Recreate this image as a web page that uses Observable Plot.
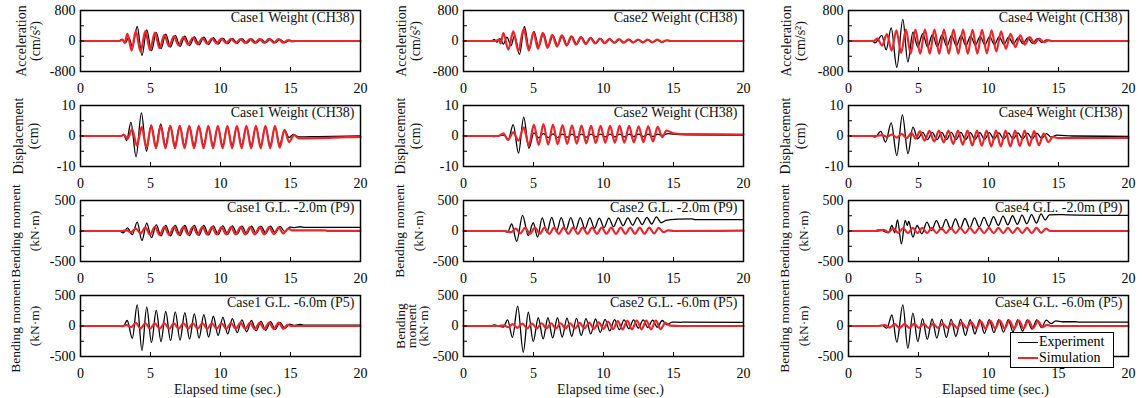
<!DOCTYPE html>
<html><head><meta charset="utf-8">
<script src="https://cdn.jsdelivr.net/npm/d3@7"></script>
<script src="https://cdn.jsdelivr.net/npm/@observablehq/plot@0.6"></script>
<style>
body{margin:0;background:#fff;}
#chart{position:relative;width:1142px;height:398px;overflow:hidden;font-family:"Liberation Serif","Times New Roman",serif;}
#chart svg{position:absolute;}
.legend{position:absolute;left:1010px;top:332px;width:102px;height:34px;border:1px solid #000;background:#fff;font-size:14px;color:#000;z-index:5;}
.legend .sw{position:absolute;left:7px;width:20px;}
.legend .lb{position:absolute;left:28px;line-height:14px;}
</style></head>
<body><div id="chart"></div>
<script>
// ---- tick values / labels ----
const xTicks = [0, 5, 10, 15, 20];
const accTicks = [-800, -400, 0, 400, 800];
const accLabeled = [-800, 0, 800];
const dispTicks = [-10, -5, 0, 5, 10];
const dispLabeled = [-10, 0, 10];
const bmTicks = [-500, -250, 0, 250, 500];
const bmLabeled = [-500, 0, 500];
const cases = ["Case1", "Case2", "Case4"];
const seriesNames = ["Experiment", "Simulation"];

// ---- Case1 ----
const acc1Exp = [[0,0],[2.7,0],[2.95,40],[3.2,-50],[3.45,90],[3.71,-150],[4.05,380],[4.39,-380],[4.73,290],[5.07,-250],[5.41,220],[5.75,-200],[6.09,180],[6.43,-160],[6.77,150],[7.11,-140],[7.45,130],[7.79,-120],[8.13,110],[8.47,-100],[8.81,100],[9.15,-90],[9.49,85],[9.83,-80],[10.17,75],[10.51,-70],[10.85,65],[11.19,-60],[11.53,60],[11.87,-55],[12.21,55],[12.55,-50],[12.89,50],[13.23,-45],[13.57,50],[13.91,-45],[14.25,45],[14.59,-40],[14.93,20],[15.2,-10],[15.5,0],[20,0]];
const acc1Sim = [[0,0],[2.8,0],[3.0,40],[3.15,-50],[3.35,190],[3.65,-250],[3.95,260],[4.29,-280],[4.63,260],[4.97,-240],[5.31,220],[5.65,-190],[5.99,160],[6.33,-140],[6.67,120],[7.01,-110],[7.35,100],[7.69,-90],[8.03,85],[8.37,-80],[8.71,75],[9.05,-70],[9.39,65],[9.73,-60],[10.07,60],[10.41,-55],[10.75,55],[11.09,-50],[11.43,50],[11.77,-50],[12.11,50],[12.45,-50],[12.79,50],[13.13,-50],[13.47,55],[13.81,-50],[14.15,50],[14.49,-45],[14.83,25],[15.1,-10],[15.4,0],[20,0]];
const disp1Exp = [[0,0],[2.9,0],[3.1,0.4],[3.3,-1.5],[3.6,4.5],[3.97,-6.8],[4.35,7.6],[4.71,-5.0],[5.05,3.6],[5.39,-3.2],[5.73,4.0],[6.07,-3.0],[6.41,3.5],[6.75,-3.0],[7.09,3.4],[7.43,-3.0],[7.77,3.2],[8.11,-3.0],[8.45,3.0],[8.79,-3.0],[9.13,3.0],[9.47,-3.0],[9.81,3.0],[10.15,-3.0],[10.49,3.0],[10.83,-3.0],[11.17,3.0],[11.51,-3.0],[11.85,3.0],[12.19,-3.0],[12.53,3.0],[12.87,-3.0],[13.21,3.0],[13.55,-3.0],[13.89,3.0],[14.23,-2.8],[14.57,2.0],[14.9,-0.5],[15.2,0.5],[15.6,-0.3],[17,-0.2],[20,0]];
const disp1Sim = [[0,0],[2.9,0],[3.1,0.5],[3.35,-1.0],[3.69,2.2],[4.03,-3.2],[4.37,3.0],[4.71,-3.8],[5.05,3.3],[5.39,-4.0],[5.73,3.3],[6.07,-4.0],[6.41,3.3],[6.75,-4.0],[7.09,3.3],[7.43,-4.0],[7.77,3.3],[8.11,-4.0],[8.45,3.3],[8.79,-4.0],[9.13,3.3],[9.47,-4.0],[9.81,3.3],[10.15,-4.0],[10.49,3.3],[10.83,-4.0],[11.17,3.3],[11.51,-4.0],[11.85,3.3],[12.19,-4.0],[12.53,3.3],[12.87,-4.0],[13.21,3.3],[13.55,-4.0],[13.89,3.3],[14.23,-3.8],[14.57,2.0],[14.9,-2.0],[15.25,0.3],[15.6,-0.8],[17,-0.7],[19,-0.4],[20,-0.3]];
const bm2m1Exp = [[0,0],[2.8,0],[3.05,-30],[3.35,50],[3.7,-60],[4.05,145],[4.39,-155],[4.73,130],[5.07,-110],[5.41,100],[5.75,-80],[6.09,90],[6.43,-80],[6.77,90],[7.11,-75],[7.45,90],[7.79,-75],[8.13,90],[8.47,-70],[8.81,90],[9.15,-65],[9.49,85],[9.83,-60],[10.17,85],[10.51,-55],[10.85,85],[11.19,-50],[11.53,80],[11.87,-45],[12.21,80],[12.55,-40],[12.89,80],[13.23,-35],[13.57,80],[13.91,-30],[14.25,75],[14.59,-10],[14.95,65],[15.3,55],[15.7,70],[16.0,60],[20,60]];
const bm2m1Sim = [[0,0],[3.0,0],[3.3,10],[3.6,-20],[3.95,40],[4.29,-40],[4.63,60],[4.97,-60],[5.31,70],[5.65,-65],[5.99,70],[6.33,-65],[6.67,70],[7.01,-60],[7.35,70],[7.69,-60],[8.03,70],[8.37,-60],[8.71,70],[9.05,-60],[9.39,65],[9.73,-55],[10.07,65],[10.41,-55],[10.75,65],[11.09,-55],[11.43,65],[11.77,-55],[12.11,65],[12.45,-55],[12.79,65],[13.13,-55],[13.47,65],[13.81,-50],[14.15,60],[14.49,-40],[14.83,40],[15.1,10],[17.5,10],[17.6,3],[20,3]];
const bm6m1Exp = [[0,0],[2.8,0],[3.05,-10],[3.33,90],[3.7,-200],[4.05,345],[4.39,-400],[4.73,310],[5.07,-270],[5.41,255],[5.75,-255],[6.09,240],[6.43,-240],[6.77,230],[7.11,-230],[7.45,220],[7.79,-215],[8.13,200],[8.47,-200],[8.81,185],[9.15,-180],[9.49,160],[9.83,-155],[10.17,140],[10.51,-130],[10.85,120],[11.19,-110],[11.53,100],[11.87,-95],[12.21,90],[12.55,-80],[12.89,75],[13.23,-70],[13.57,70],[13.91,-55],[14.25,60],[14.59,-40],[14.93,30],[15.3,10],[15.7,25],[16.0,15],[20,15]];
const bm6m1Sim = [[0,0],[3.0,0],[3.3,15],[3.6,-20],[3.95,50],[4.29,-40],[4.63,45],[4.97,-45],[5.31,45],[5.65,-45],[5.99,45],[6.33,-45],[6.67,45],[7.01,-45],[7.35,45],[7.69,-45],[8.03,45],[8.37,-45],[8.71,45],[9.05,-45],[9.39,45],[9.73,-45],[10.07,45],[10.41,-45],[10.75,45],[11.09,-45],[11.43,50],[11.77,-45],[12.11,50],[12.45,-50],[12.79,50],[13.13,-50],[13.47,55],[13.81,-50],[14.15,55],[14.49,-45],[14.8,20],[15.1,0],[20,0]];

// ---- Case2 ----
const acc2Exp = [[0,0],[2.0,0],[2.2,40],[2.4,-30],[2.6,60],[2.85,-80],[3.1,100],[3.4,-120],[3.65,150],[4.0,-350],[4.35,380],[4.69,-200],[5.03,250],[5.37,-150],[5.71,200],[6.05,-150],[6.39,150],[6.73,-120],[7.07,140],[7.41,-110],[7.75,120],[8.09,-90],[8.43,100],[8.77,-70],[9.11,80],[9.45,-60],[9.79,60],[10.13,-50],[10.47,50],[10.81,-45],[11.15,45],[11.49,-40],[11.83,40],[12.17,-35],[12.51,35],[12.85,-30],[13.19,30],[13.53,-30],[13.87,30],[14.21,-20],[14.55,15],[14.9,0],[20,0]];
const acc2Sim = [[0,0],[2.3,0],[2.5,40],[2.65,-60],[2.85,205],[3.2,-225],[3.56,250],[3.92,-265],[4.3,320],[4.67,-250],[5.0,230],[5.32,-205],[5.66,215],[6.0,-180],[6.34,160],[6.68,-145],[7.02,145],[7.36,-120],[7.7,120],[8.04,-95],[8.38,100],[8.72,-80],[9.06,80],[9.4,-65],[9.74,65],[10.08,-55],[10.42,55],[10.76,-50],[11.1,50],[11.44,-45],[11.78,45],[12.12,-40],[12.46,40],[12.8,-40],[13.14,40],[13.48,-35],[13.82,35],[14.16,-30],[14.5,20],[14.8,0],[20,0]];
const disp2Exp = [[0,0],[2.0,0],[2.2,-0.2],[2.6,0.2],[2.9,0.3],[3.2,-1.2],[3.55,3.7],[3.93,-5.6],[4.3,6.2],[4.67,-4.0],[5.03,1.0],[5.37,-0.6],[5.71,0.8],[6.05,-0.5],[6.39,0.7],[6.73,-0.5],[7.07,0.6],[7.41,-0.4],[7.75,0.6],[8.09,-0.4],[8.43,0.6],[8.77,-0.4],[9.11,0.6],[9.45,-0.3],[9.79,0.6],[10.13,-0.3],[10.47,0.6],[10.81,-0.3],[11.15,0.6],[11.49,-0.3],[11.83,0.6],[12.17,-0.2],[12.51,0.6],[12.85,-0.2],[13.19,0.6],[13.53,-0.2],[13.87,0.6],[14.2,0.2],[14.6,0.8],[15.0,0.6],[16,0.4],[20,0.3]];
const disp2Sim = [[0,0],[2.5,0],[2.85,0.9],[3.18,-1.3],[3.55,1.2],[3.93,-1.5],[4.3,2.8],[4.67,-3.1],[5.03,3.7],[5.37,-2.9],[5.71,3.9],[6.05,-2.8],[6.39,3.7],[6.73,-2.7],[7.07,3.6],[7.41,-2.6],[7.75,3.5],[8.09,-2.5],[8.43,3.4],[8.77,-2.4],[9.11,3.3],[9.45,-2.3],[9.79,3.3],[10.13,-2.2],[10.47,3.3],[10.81,-2.2],[11.15,3.3],[11.49,-2.2],[11.83,3.3],[12.17,-2.1],[12.51,3.2],[12.85,-2.0],[13.19,3.2],[13.53,-1.8],[13.87,3.0],[14.2,-0.4],[14.5,1.8],[15.0,0.9],[16,0.6],[20,0.5]];
const bm2m2Exp = [[0,0],[2.9,0],[3.15,-20],[3.44,115],[3.8,-170],[4.22,255],[4.63,-75],[4.98,135],[5.29,-100],[5.62,215],[5.96,-20],[6.30,225],[6.64,-10],[6.98,220],[7.32,10],[7.66,220],[8.0,20],[8.34,220],[8.68,35],[9.02,215],[9.36,45],[9.70,210],[10.04,55],[10.38,210],[10.72,70],[11.06,215],[11.40,85],[11.74,215],[12.08,95],[12.42,220],[12.76,105],[13.10,225],[13.44,115],[13.78,230],[14.12,135],[14.46,175],[14.8,185],[15.3,195],[16.3,200],[16.6,185],[20,185]];
const bm2m2Sim = [[0,0],[3.0,0],[3.4,-20],[3.75,40],[4.05,-40],[4.4,50],[4.75,-45],[5.1,55],[5.45,-45],[5.79,55],[6.13,-45],[6.47,55],[6.81,-45],[7.15,55],[7.49,-45],[7.83,55],[8.17,-45],[8.51,55],[8.85,-45],[9.19,55],[9.53,-45],[9.87,55],[10.21,-45],[10.55,55],[10.89,-45],[11.23,55],[11.57,-45],[11.91,55],[12.25,-45],[12.59,55],[12.93,-45],[13.27,55],[13.61,-40],[13.95,50],[14.3,-20],[14.6,10],[15,0],[20,5]];
const bm6m2Exp = [[0,0],[2.0,0],[2.2,20],[2.5,0],[2.85,-20],[3.15,100],[3.5,-185],[3.87,325],[4.27,-430],[4.63,225],[4.98,-255],[5.34,135],[5.69,-210],[6.03,135],[6.37,-195],[6.71,135],[7.05,-180],[7.39,130],[7.73,-170],[8.07,125],[8.41,-155],[8.75,120],[9.09,-130],[9.43,115],[9.77,-105],[10.11,110],[10.45,-80],[10.79,105],[11.13,-60],[11.47,100],[11.81,-45],[12.15,100],[12.49,-35],[12.83,100],[13.17,-25],[13.51,95],[13.85,-20],[14.19,90],[14.53,20],[14.9,65],[15.5,60],[15.8,65],[20,60]];
const bm6m2Sim = [[0,0],[2.5,0],[2.9,10],[3.2,-20],[3.5,30],[3.85,-30],[4.2,40],[4.55,-40],[4.9,40],[5.24,-40],[5.58,45],[5.92,-40],[6.26,45],[6.6,-40],[6.94,45],[7.28,-40],[7.62,45],[7.96,-40],[8.3,50],[8.64,-40],[8.98,55],[9.32,-45],[9.66,60],[10.0,-45],[10.34,70],[10.68,-50],[11.02,80],[11.36,-55],[11.7,85],[12.04,-55],[12.38,90],[12.72,-55],[13.06,90],[13.4,-55],[13.74,90],[14.08,-50],[14.42,50],[14.8,5],[15.5,0],[20,0]];

// ---- Case4 ----
const acc4Exp = [[0,0],[1.7,0],[1.9,-50],[2.1,30],[2.38,145],[2.69,-230],[3.05,345],[3.45,-690],[3.88,565],[4.24,-555],[4.6,230],[4.95,-160],[5.3,190],[5.65,-160],[6.0,170],[6.34,-150],[6.68,160],[7.02,-140],[7.36,150],[7.7,-130],[8.04,140],[8.38,-120],[8.72,130],[9.06,-110],[9.4,120],[9.74,-100],[10.08,115],[10.42,-95],[10.76,110],[11.1,-90],[11.44,100],[11.78,-80],[12.12,90],[12.46,-70],[12.8,80],[13.14,-60],[13.48,60],[13.82,-40],[14.16,30],[14.5,0],[20,0]];
const acc4Sim = [[0,0],[1.8,0],[2.06,60],[2.4,-120],[2.74,180],[3.08,-250],[3.42,280],[3.76,-310],[4.1,300],[4.44,-330],[4.78,300],[5.12,-335],[5.46,300],[5.8,-335],[6.14,300],[6.48,-335],[6.82,300],[7.16,-335],[7.5,300],[7.84,-335],[8.18,300],[8.52,-335],[8.86,295],[9.2,-330],[9.54,290],[9.88,-320],[10.22,280],[10.56,-270],[10.9,250],[11.24,-205],[11.58,190],[11.92,-160],[12.26,145],[12.6,-95],[12.94,100],[13.28,-60],[13.62,60],[13.96,-30],[14.3,15],[14.6,0],[20,0]];
const disp4Exp = [[0,0],[1.7,0],[1.9,-0.4],[2.3,1.5],[2.65,-2.0],[3.05,4.3],[3.45,-6.4],[3.85,6.9],[4.25,-5.8],[4.6,2.9],[4.95,-0.9],[5.3,1.2],[5.64,-1.2],[5.98,1.2],[6.32,-1.2],[6.66,1.2],[7.0,-1.2],[7.34,1.2],[7.68,-1.2],[8.02,1.2],[8.36,-1.2],[8.7,1.1],[9.04,-1.1],[9.38,1.1],[9.72,-1.1],[10.06,1.1],[10.4,-1.0],[10.74,1.0],[11.08,-1.0],[11.42,1.0],[11.76,-1.0],[12.1,1.0],[12.44,-0.9],[12.78,0.9],[13.12,-0.9],[13.46,0.9],[13.8,-0.8],[14.14,0.8],[14.48,-0.4],[14.9,0.3],[16,0],[20,-0.1]];
const disp4Sim = [[0,0],[2.0,0],[2.4,0.3],[2.75,-0.3],[3.1,0.5],[3.45,-0.5],[3.8,0.7],[4.15,-0.7],[4.5,1.0],[4.8,-0.9],[5.1,1.5],[5.44,-1.5],[5.78,1.7],[6.12,-1.8],[6.46,1.8],[6.8,-2.1],[7.14,1.8],[7.48,-2.6],[7.82,1.8],[8.16,-2.8],[8.5,1.8],[8.84,-3.1],[9.18,1.8],[9.52,-3.2],[9.86,1.8],[10.2,-3.4],[10.54,1.8],[10.88,-3.4],[11.22,1.8],[11.56,-3.4],[11.9,1.8],[12.24,-3.3],[12.58,1.8],[12.92,-3.2],[13.26,1.6],[13.6,-3.0],[13.94,0.8],[14.28,-2.0],[14.6,-0.3],[15.0,-0.7],[20,-0.6]];
const bm2m4Exp = [[0,0],[1.8,0],[2.0,10],[2.3,20],[2.6,-10],[2.85,-30],[3.1,90],[3.3,-30],[3.5,180],[3.78,-210],[4.05,175],[4.2,90],[4.3,160],[4.6,-100],[4.9,90],[5.24,-45],[5.6,145],[5.94,5],[6.28,170],[6.62,20],[6.96,190],[7.3,30],[7.64,200],[7.98,40],[8.32,205],[8.66,50],[9.0,215],[9.34,65],[9.68,225],[10.02,75],[10.36,235],[10.7,90],[11.04,245],[11.38,100],[11.72,250],[12.06,110],[12.4,260],[12.74,120],[13.08,270],[13.42,130],[13.76,280],[14.05,180],[14.35,265],[15,270],[15.6,265],[20,255]];
const bm2m4Sim = [[0,0],[2.0,0],[2.5,20],[2.85,-20],[3.2,40],[3.55,-30],[3.9,45],[4.25,-35],[4.59,50],[4.93,-35],[5.27,50],[5.61,-35],[5.95,50],[6.29,-35],[6.63,50],[6.97,-35],[7.31,50],[7.65,-35],[7.99,50],[8.33,-35],[8.67,50],[9.01,-35],[9.35,50],[9.69,-35],[10.03,50],[10.37,-35],[10.71,50],[11.05,-35],[11.39,50],[11.73,-35],[12.07,50],[12.41,-35],[12.75,50],[13.09,-35],[13.43,50],[13.77,-30],[14.11,40],[14.4,0],[20,0]];
const bm6m4Exp = [[0,0],[1.8,0],[2.4,10],[2.74,-35],[3.1,180],[3.45,-265],[3.88,345],[4.24,-365],[4.6,210],[4.95,-255],[5.29,120],[5.63,-220],[5.97,115],[6.31,-200],[6.65,110],[6.99,-185],[7.33,110],[7.67,-170],[8.01,110],[8.35,-155],[8.69,105],[9.03,-130],[9.37,105],[9.71,-120],[10.05,105],[10.39,-110],[10.73,105],[11.07,-100],[11.41,105],[11.75,-95],[12.09,105],[12.43,-85],[12.77,100],[13.11,-50],[13.45,100],[13.79,-25],[14.13,95],[14.47,40],[14.8,85],[15.3,70],[16.2,70],[16.5,63],[20,63]];
const bm6m4Sim = [[0,0],[2.2,0],[2.6,15],[2.95,-25],[3.3,30],[3.65,-30],[4.0,30],[4.35,-30],[4.69,35],[5.03,-30],[5.37,35],[5.71,-30],[6.05,35],[6.39,-30],[6.73,40],[7.07,-30],[7.41,45],[7.75,-35],[8.09,55],[8.43,-35],[8.77,65],[9.11,-40],[9.45,75],[9.79,-40],[10.13,85],[10.47,-40],[10.81,90],[11.15,-40],[11.49,90],[11.83,-40],[12.17,90],[12.51,-40],[12.85,90],[13.19,-35],[13.53,80],[13.87,-20],[14.2,20],[14.5,0],[20,0]];

// ---- layout spec (rows = quantities, cols = cases) ----
const rows = [
  {label: "Acceleration\n(cm/s²)", lh: 1.0, fs: 14, ldx: [-52, -55, -55], domain: [-800, 800], ticks: accTicks, labeled: accLabeled, tag: "Weight (CH38)",
   data: [[acc1Exp, acc1Sim], [acc2Exp, acc2Sim], [acc4Exp, acc4Sim]]},
  {label: "Displacement\n(cm)", lh: 1.1, fs: 14, ldx: [-55, -56, -56], domain: [-10, 10], ticks: dispTicks, labeled: dispLabeled, tag: "Weight (CH38)",
   data: [[disp1Exp, disp1Sim], [disp2Exp, disp2Sim], [disp4Exp, disp4Sim]]},
  {label: "Bending moment\n(kN·m)", lh: 1.4, fs: 13.5, ldx: [-57, -56, -56], domain: [-500, 500], ticks: bmTicks, labeled: bmLabeled, tag: "G.L. -2.0m (P9)",
   data: [[bm2m1Exp, bm2m1Sim], [bm2m2Exp, bm2m2Sim], [bm2m4Exp, bm2m4Sim]]},
  {label: "Bending moment\n(kN·m)", lh: 1.4, fs: 13.5, ldx: [-57, -56, -56], domain: [-500, 500], ticks: bmTicks, labeled: bmLabeled, tag: "G.L. -6.0m (P5)",
   data: [[bm6m1Exp, bm6m1Sim], [bm6m2Exp, bm6m2Sim], [bm6m4Exp, bm6m4Sim]]}
];

const RED = "#e8262c";
const colLeft = [0, 383, 768];
const rowTop = [0, 95, 190, 285];
const chart = document.getElementById("chart");

rows.forEach((r, ri) => {
  cases.forEach((c, ci) => {
    const last = ri === 3;
    const [expArr, simArr] = r.data[ci];
    const exp = expArr.map(([t, v]) => ({t, v}));
    const sim = simArr.map(([t, v]) => ({t, v}));
    let yLabel = r.label, lh = r.lh, ldx = r.ldx[ci];
    if (ri === 3 && ci === 1) { yLabel = "Bending\nmoment\n(kN·m)"; lh = 0.85; ldx = -51; }
    const marks = [
      Plot.line(exp, {x: "t", y: "v", stroke: "black", strokeWidth: 1.3, curve: "monotone-x"}),
      Plot.line(sim, {x: "t", y: "v", stroke: RED, strokeWidth: 2.2, curve: "monotone-x"}),
      Plot.frame({stroke: "black", strokeWidth: 1.5}),
      Plot.axisX({ticks: xTicks, tickSize: -4, tickPadding: 16, tickFormat: d => String(d), label: null, fontSize: 14}),
      Plot.axisY({ticks: r.ticks, tickSize: -4, tickPadding: 9, tickFormat: d => r.labeled.includes(d) ? String(d) : "", label: null, fontSize: 14}),
      Plot.text([`${c} ${r.tag}`], {frameAnchor: "top-right", dx: -6, dy: 2, fontSize: 14, fill: "#111"}),
      Plot.text([yLabel], {frameAnchor: "left", textAnchor: "middle", lineAnchor: "middle", rotate: -90, dx: ldx, lineHeight: lh, fontSize: r.fs, fill: "#111"})
    ];
    if (last) marks.push(Plot.text(["Elapsed time (sec.)"], {frameAnchor: "bottom", lineAnchor: "middle", dy: 33, dx: 7, fontSize: 14, fill: "#111"}));
    const svg = Plot.plot({
      width: 370, height: last ? 113 : 96,
      marginLeft: 80, marginRight: 10, marginTop: 10, marginBottom: last ? 42 : 25,
      x: {domain: [0, 20]},
      y: {domain: r.domain},
      style: {fontFamily: "'Liberation Serif', 'Times New Roman', serif", fontSize: "14px", background: "transparent", overflow: "visible", color: "black"},
      marks
    });
    svg.style.left = colLeft[ci] + "px";
    svg.style.top = rowTop[ri] + "px";
    chart.appendChild(svg);
  });
});

// legend (HTML)
const legend = document.createElement("div");
legend.className = "legend";
seriesNames.forEach((name, i) => {
  const sw = document.createElement("div");
  sw.className = "sw";
  sw.style.top = (i === 0 ? 9 : 24) + "px";
  sw.style.borderTop = i === 0 ? "1.3px solid #000" : "2.2px solid " + RED;
  legend.appendChild(sw);
  const lb = document.createElement("div");
  lb.className = "lb";
  lb.style.top = (i === 0 ? 2 : 18) + "px";
  lb.textContent = name;
  legend.appendChild(lb);
});
chart.appendChild(legend);
</script></body></html>
